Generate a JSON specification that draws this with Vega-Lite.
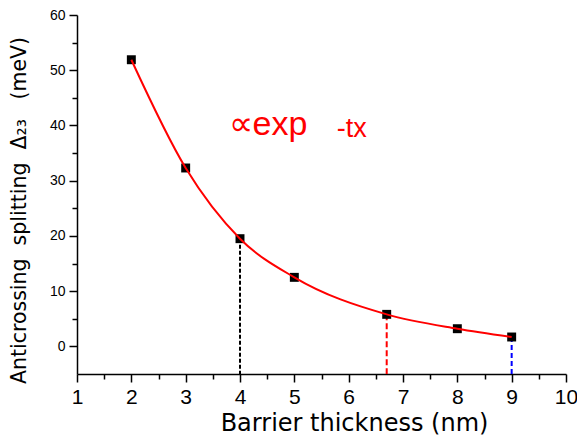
{
  "$schema": "https://vega.github.io/schema/vega-lite/v6.json",
  "width": 489,
  "height": 359,
  "autosize": "none",
  "padding": {"left": 77, "top": 15, "right": 11, "bottom": 63},
  "background": "white",
  "config": {"view": {"stroke": null}},
  "datasets": {
    "pts": [
      {"t": 2, "split": 51.9},
      {"t": 3, "split": 32.3},
      {"t": 4, "split": 19.5},
      {"t": 5, "split": 12.5},
      {"t": 6.7, "split": 5.8},
      {"t": 8, "split": 3.2},
      {"t": 9, "split": 1.7}
    ],
    "drops": [
      {"t": 4, "split": 19.5, "kind": "a"},
      {"t": 6.7, "split": 5.8, "kind": "b"},
      {"t": 9, "split": 1.7, "kind": "c"}
    ]
  },
  "layer": [
    {
      "layer": [
        {
          "data": {"name": "drops"},
          "mark": {"type": "rule", "strokeWidth": 2},
          "encoding": {
            "x": {"field": "t", "type": "quantitative"},
            "y": {"field": "split", "type": "quantitative"},
            "y2": {"datum": -5},
            "color": {"field": "kind", "type": "nominal", "legend": null,
              "scale": {"domain": ["a", "b", "c"], "range": ["#000000", "#ff0000", "#0000ff"]}},
            "strokeDash": {"field": "kind", "type": "nominal", "legend": null,
              "scale": {"domain": ["a", "b", "c"], "range": [[4, 2], [6, 3], [5, 3]]}}
          }
        },
        {
          "data": {"name": "pts"},
          "mark": {"type": "square", "size": 80, "color": "#000000", "opacity": 1},
          "encoding": {
            "x": {"field": "t", "type": "quantitative"},
            "y": {"field": "split", "type": "quantitative"}
          }
        },
        {
          "data": {"name": "pts"},
          "mark": {"type": "line", "color": "#ff0000", "strokeWidth": 2, "interpolate": "monotone"},
          "encoding": {
            "x": {"field": "t", "type": "quantitative",
              "scale": {"domain": [1, 10], "nice": false, "zero": false},
              "axis": {"values": [1,2,3,4,5,6,7,8,9,10], "format": "d", "labelOverlap": false, "labelFlush": false, "title": "Barrier thickness (nm)", "grid": false,
                "domainColor": "#000", "domainWidth": 1.5, "tickColor": "#000", "tickWidth": 1.5, "tickSize": 8,
                "labelFont": "Liberation Sans", "labelFontSize": 21, "labelColor": "#000", "labelPadding": 4,
                "titleFont": "DejaVu Sans", "titleFontSize": 24, "titleFontWeight": "normal", "titleColor": "#000",
                "titleX": 277, "titleY": 56, "titleBaseline": "alphabetic", "titleAlign": "center"}},
            "y": {"field": "split", "type": "quantitative",
              "scale": {"domain": [-5, 60], "nice": false, "zero": false},
              "axis": {"values": [0,10,20,30,40,50,60], "format": "d", "labelOverlap": false, "labelFlush": false, "title": "Anticrossing\u00a0\u00a0splitting\u00a0\u00a0Δ₂₃\u00a0\u00a0\u00a0(meV)", "grid": false,
                "domainColor": "#000", "domainWidth": 1.5, "tickColor": "#000", "tickWidth": 1.5, "tickSize": 8,
                "labelFont": "Liberation Sans", "labelFontSize": 14, "labelColor": "#000", "labelPadding": 4,
                "titleFont": "DejaVu Sans", "titleFontSize": 20.5, "titleFontWeight": "normal", "titleColor": "#000",
                "titleX": -52, "titleY": 195, "titleAlign": "center", "titleBaseline": "alphabetic"}}
          }
        },
        {
          "data": {"values": [{"s": "∝exp"}]},
          "mark": {"type": "text", "color": "#ff0000", "font": "Liberation Sans", "fontSize": 34, "align": "left", "baseline": "alphabetic"},
          "encoding": {
            "x": {"datum": 3.79},
            "y": {"datum": 38.3},
            "text": {"field": "s"}
          }
        },
        {
          "data": {"values": [{"s": "-tx"}]},
          "mark": {"type": "text", "color": "#ff0000", "font": "Liberation Sans", "fontSize": 27, "align": "left", "baseline": "alphabetic"},
          "encoding": {
            "x": {"datum": 5.78},
            "y": {"datum": 38.0},
            "text": {"field": "s"}
          }
        }
      ]
    },
    {
      "data": {"values": [{"t": 1, "split": -5}]},
      "mark": {"type": "point", "opacity": 0},
      "encoding": {
        "x": {"field": "t", "type": "quantitative",
          "scale": {"domain": [1, 10], "nice": false, "zero": false},
          "axis": {"orient": "bottom", "values": [1.5,2.5,3.5,4.5,5.5,6.5,7.5,8.5,9.5], "labels": false, "domain": false, "grid": false,
            "tickColor": "#000", "tickWidth": 1.5, "tickSize": 5, "title": null}},
        "y": {"field": "split", "type": "quantitative",
          "scale": {"domain": [-5, 60], "nice": false, "zero": false},
          "axis": {"orient": "left", "values": [5,15,25,35,45,55], "labels": false, "domain": false, "grid": false,
            "tickColor": "#000", "tickWidth": 1.5, "tickSize": 5, "title": null}}
      }
    }
  ],
  "resolve": {"scale": {"x": "independent", "y": "independent"}}
}
